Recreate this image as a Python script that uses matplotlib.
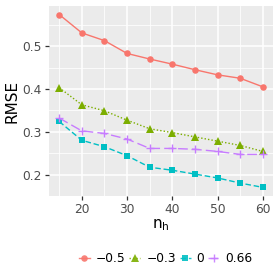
import matplotlib
matplotlib.use('Agg')
import numpy as np
import matplotlib.pyplot as plt
from matplotlib.ticker import MultipleLocator

nh = [15, 20, 25, 30, 35, 40, 45, 50, 55, 60]
rmse_m05 = [0.574, 0.531, 0.513, 0.483, 0.470, 0.458, 0.445, 0.433, 0.425, 0.405]
rmse_m03 = [0.403, 0.363, 0.349, 0.327, 0.307, 0.298, 0.288, 0.278, 0.268, 0.254]
rmse_0 = [0.324, 0.280, 0.265, 0.244, 0.217, 0.210, 0.201, 0.192, 0.180, 0.170]
rmse_066 = [0.332, 0.302, 0.296, 0.283, 0.261, 0.261, 0.259, 0.254, 0.247, 0.247]
labels = ['\u22120.5', '\u22120.3', '0', '0.66']

series = [rmse_m05, rmse_m03, rmse_0, rmse_066]
colors = ['#F8766D', '#7CAE00', '#00BFC4', '#C77CFF']
markers = ['o', '^', 's', '+']
styles = ['-', (0, (1, 1.5)), (0, (4, 2)), (0, (7, 3))]
msizes = [4.7, 5.2, 4.7, 6.2]

fig = plt.figure(figsize=(2.8, 2.8), dpi=100)
ax = fig.add_axes([0.175, 0.3, 0.8, 0.679])
ax.set_facecolor('#EBEBEB')

for y, c, m, ls, ms, lab in zip(series, colors, markers, styles, msizes, labels):
    ax.plot(nh, y, color=c, linestyle=ls, linewidth=1.0, marker=m,
            markersize=ms, markeredgewidth=1.0 if m == '+' else 0, label=lab)

ax.set_xlim(12.75, 62.25)
ax.set_ylim(0.1498, 0.5942)
ax.xaxis.set_minor_locator(MultipleLocator(5))
ax.yaxis.set_minor_locator(MultipleLocator(0.05))
ax.set_xticks([20, 30, 40, 50, 60])
ax.set_yticks([0.2, 0.3, 0.4, 0.5])
ax.set_yticklabels(['0.2', '0.3', '0.4', '0.5'])

ax.grid(which='major', color='white', linewidth=1.1)
ax.grid(which='minor', color='white', linewidth=0.55)
ax.set_axisbelow(True)
for s in ax.spines.values():
    s.set_visible(False)
ax.tick_params(which='major', length=3, width=0.9, color='#333333',
               labelsize=8.8, labelcolor='#4D4D4D', pad=2)
ax.tick_params(which='minor', length=0)

ax.set_xlabel('n$_\\mathregular{h}$', fontsize=11, labelpad=1)
ax.set_ylabel('RMSE', fontsize=11, labelpad=2.5)

leg = ax.legend(loc='center', bbox_to_anchor=(0.52, -0.33), ncol=4, frameon=False,
                fontsize=8.8, handlelength=0.9, handletextpad=0.5,
                columnspacing=0.3)
for h in leg.get_lines():
    h.set_alpha(0.9)

fig.savefig('out.png', dpi=100)
